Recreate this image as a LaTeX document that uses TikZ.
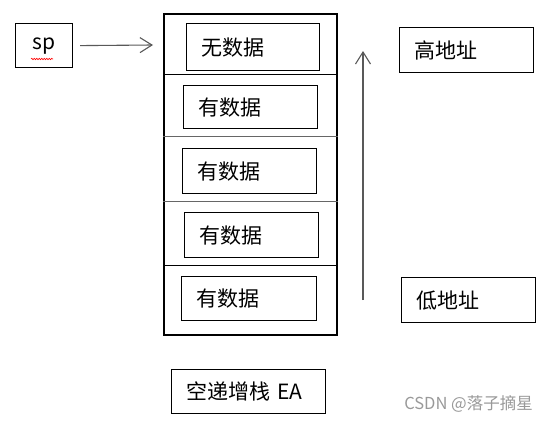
\documentclass[tikz,border=0pt]{standalone}
\usepackage{fontspec}
\setmainfont{Noto Sans CJK SC}
\usetikzlibrary{arrows.meta,decorations.pathmorphing}
\begin{document}
\begin{tikzpicture}[x=1pt,y=-1pt,
  cellbox/.style={draw=black, line width=1.2pt, inner xsep=15pt, inner ysep=0pt,
    anchor=north west, align=left, font=\fontsize{21}{25}\selectfont},
  stackbox/.style={draw=black, line width=2pt, anchor=north west, inner sep=0pt},
  divider/.style={line width=1pt},
  arr/.style={draw=black!65, line width=1.1pt, -{Straight Barb[length=12pt,width=15pt,line width=1.1pt]}},
  wm/.style={text=black!40, font=\fontsize{16.5}{20}\selectfont, inner sep=0pt}]
\useasboundingbox (0,0) rectangle (549,423);
% sp
\node[cellbox, inner xsep=0pt, align=center, text width=57, minimum width=57, minimum height=44] (sp) at (15,23) {sp};
\coordinate (sq1) at (31,59);
\coordinate (sq2) at (53,59);
\draw[red, line width=0.6pt, decorate, decoration={snake, amplitude=0.7pt, segment length=2.5pt}] (sq1) -- (sq2);
% stack
\node[stackbox, minimum width=173, minimum height=321] (stack) at (163,13) {};
\node[cellbox, text width=103, minimum height=47] (b1) at (186,23) {无数据};
\node[cellbox, text width=104, minimum height=43] (b2) at (183,85) {有数据};
\node[cellbox, text width=104, minimum height=45] (b3) at (182,148) {有数据};
\node[cellbox, text width=104, minimum height=45] (b4) at (184,212) {有数据};
\node[cellbox, text width=105, minimum height=44] (b5) at (181,276) {有数据};
\coordinate (d1) at (0,74);
\coordinate (d2) at (0,136);
\coordinate (d3) at (0,201);
\coordinate (d4) at (0,265);
\draw[divider] (stack.west |- d1) -- (stack.east |- d1);
\draw[divider, draw=black!60] (stack.west |- d2) -- (stack.east |- d2);
\draw[divider, draw=black!60] (stack.west |- d3) -- (stack.east |- d3);
\draw[divider] (stack.west |- d4) -- (stack.east |- d4);
% sp arrow
\coordinate (spend) at (153,45);
\draw[arr] ([xshift=7pt]sp.east) -- (spend);
% address
\node[cellbox, text width=104, minimum height=45] (hi) at (399,27) {高地址};
\node[cellbox, text width=104, minimum height=45] (lo) at (401,277) {低地址};
\coordinate (a1) at (363,300);
\coordinate (a2) at (363,51);
\draw[arr] (a1) -- (a2);
% caption
\node[cellbox, text width=124, minimum height=44] (cap) at (171,369) {空递增栈 EA};
\node[wm, anchor=east] (wmk) at (533,404) {CSDN @落子摘星};
\end{tikzpicture}
\end{document}
